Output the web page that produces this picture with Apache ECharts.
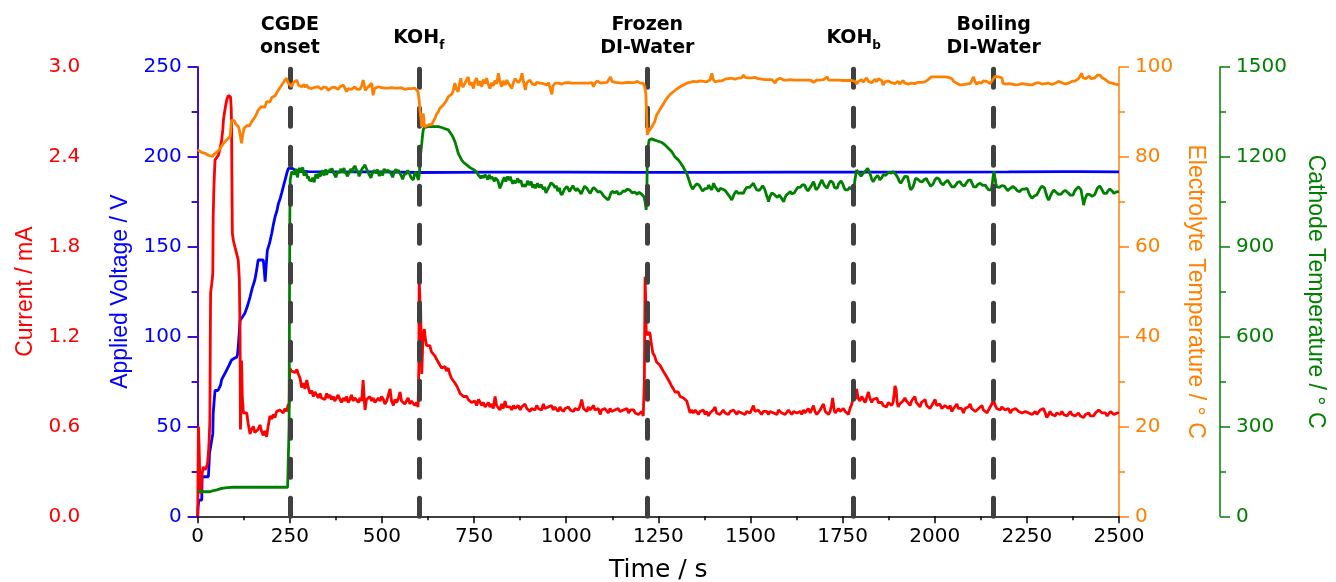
<!DOCTYPE html>
<html>
<head>
<meta charset="utf-8">
<script src="https://cdn.jsdelivr.net/npm/echarts@6/dist/echarts.min.js"></script>
<style>
html,body{margin:0;padding:0;background:#fff;}
#chart{width:1336px;height:582px;}
</style>
</head>
<body>
<div id="chart"></div>
<script>
// ---------- DATA ----------
const xTicks = [0, 250, 500, 750, 1000, 1250, 1500, 1750, 2000, 2250, 2500];

const eventTimes = [250, 600, 1220, 1780, 2160];
const eventLabels = ['CGDE\nonset', '{m|KOH}{s|f}', 'Frozen\nDI-Water', '{m|KOH}{s|b}', 'Boiling\nDI-Water'];

// Applied voltage (V) : [time s, V]
const voltageData = [[0,0],[1,5],[3,9],[8,9],[11,9],[12,22],[20,22],[29,22],[31,30],[32,35],[36,40],[41,46],[42,57],[45,65],[47,70],[55,70],[60,70],[62,73],[65,76],[70,78],[75,80],[79,81],[85,84],[92,87],[100,88],[106,88.5],[108,90],[110,94],[113,103],[115,109],[120,110],[128,113],[135,117],[142,122],[148,127],[155,131.5],[160,137],[164,142.6],[170,142.6],[178,142.6],[181,136],[183,130.5],[186,140],[189,148],[195,152],[201,157.5],[205,162],[210,166.7],[215,170],[219,174],[224,177],[228,180],[233,184],[237,187],[242,191],[246,193.6],[250,194],[255,193.8],[259,193.6],[265,192.5],[275,192],[300,191.8],[400,191.6],[500,191.6],[600,191.3],[700,191.4],[800,191.5],[1000,191.5],[1200,191.4],[1400,191.4],[1600,191.5],[1800,191.5],[2000,191.5],[2200,191.6],[2350,191.8],[2400,191.8],[2500,191.6]];

// Current (mA) : [time s, mA]
const currentData = [[0,0],[1,0.3],[2,0.6],[4,0.45],[6,0.22],[9,0.15],[11,0.26],[13,0.3],[15,0.33],[20,0.31],[24,0.33],[27,0.36],[29,0.42],[31,0.5],[33,0.64],[34,1.1],[35,1.49],[38,1.55],[41,1.62],[42,2.0],[44,2.2],[47,2.38],[50,2.39],[56,2.41],[60,2.45],[65,2.51],[68,2.58],[70,2.65],[73,2.7],[77,2.76],[80,2.79],[83,2.81],[86,2.80],[89,2.80],[91,2.72],[92,2.60],[93,2.2],[94,1.89],[97,1.84],[101,1.80],[105,1.76],[110,1.71],[113,1.58],[115,1.2],[116,0.58],[117,0.57],[118,0.75],[119,1.04],[121,0.8],[124,0.69],[128,0.68],[133,0.69],[137,0.62],[142,0.55],[146,0.58],[151,0.6],[155,0.56],[160,0.55],[164,0.58],[169,0.61],[173,0.57],[178,0.54],[182,0.57],[187,0.53],[191,0.6],[196,0.67],[201,0.65],[205,0.68],[210,0.66],[214,0.7],[219,0.69],[223,0.71],[228,0.70],[232,0.69],[237,0.72],[241,0.70],[244,0.73],[246,0.75],[248,0.72],[250,0.99],[254,0.97],[259,0.98],[264,0.96],[269,0.98],[273,0.95],[278,0.92],[282,0.86],[287,0.89],[291,0.85],[296,0.91],[300,0.86],[305,0.82],[309,0.84],[314,0.80],[318,0.83],[323,0.81],[327,0.79],[332,0.82],[336,0.79],[341,0.80],[345,0.78],[350,0.82],[354,0.79],[359,0.81],[363,0.78],[368,0.80],[372,0.77],[377,0.78],[381,0.81],[386,0.78],[390,0.76],[395,0.79],[399,0.77],[404,0.80],[408,0.76],[413,0.78],[417,0.81],[422,0.77],[426,0.79],[431,0.79],[436,0.76],[440,0.79],[445,0.77],[449,0.91],[451,0.82],[454,0.71],[458,0.78],[463,0.77],[467,0.80],[472,0.77],[476,0.79],[481,0.76],[486,0.75],[490,0.79],[495,0.77],[499,0.80],[504,0.78],[508,0.75],[513,0.77],[518,0.76],[522,0.85],[526,0.77],[531,0.74],[535,0.78],[540,0.76],[545,0.79],[549,0.83],[553,0.77],[558,0.78],[562,0.75],[567,0.76],[571,0.79],[576,0.75],[580,0.77],[585,0.78],[589,0.74],[594,0.76],[598,0.73],[600,1.0],[601,1.58],[603,1.45],[605,1.38],[607,1.1],[608,0.95],[610,1.1],[611,1.2],[613,1.22],[615,1.25],[618,1.18],[621,1.14],[626,1.13],[630,1.14],[634,1.10],[639,1.09],[644,1.07],[648,1.05],[653,1.04],[657,1.01],[662,0.99],[666,0.98],[671,1.0],[675,0.97],[680,0.99],[684,0.95],[689,0.92],[693,0.93],[698,0.89],[703,0.87],[707,0.85],[712,0.82],[716,0.83],[721,0.80],[725,0.81],[730,0.80],[734,0.78],[739,0.79],[743,0.76],[748,0.75],[752,0.77],[757,0.74],[762,0.78],[766,0.78],[771,0.74],[775,0.76],[780,0.73],[784,0.74],[789,0.76],[793,0.73],[798,0.75],[802,0.72],[807,0.80],[811,0.74],[816,0.73],[820,0.71],[825,0.75],[829,0.72],[834,0.77],[838,0.73],[843,0.74],[848,0.73],[852,0.71],[857,0.74],[861,0.72],[866,0.72],[870,0.74],[875,0.71],[879,0.73],[884,0.72],[888,0.75],[893,0.72],[897,0.73],[902,0.70],[906,0.72],[911,0.73],[915,0.71],[920,0.74],[924,0.72],[929,0.73],[933,0.71],[938,0.75],[942,0.72],[947,0.71],[951,0.73],[956,0.72],[960,0.74],[965,0.71],[969,0.73],[974,0.72],[978,0.70],[983,0.73],[987,0.71],[993,0.70],[997,0.72],[1002,0.71],[1006,0.73],[1011,0.71],[1015,0.72],[1020,0.70],[1024,0.72],[1029,0.73],[1033,0.71],[1038,0.74],[1042,0.78],[1047,0.72],[1051,0.71],[1056,0.70],[1060,0.73],[1065,0.71],[1069,0.72],[1074,0.74],[1078,0.71],[1083,0.70],[1087,0.72],[1092,0.68],[1096,0.71],[1101,0.70],[1105,0.72],[1110,0.71],[1114,0.69],[1119,0.72],[1123,0.70],[1128,0.69],[1132,0.71],[1137,0.70],[1141,0.72],[1146,0.70],[1150,0.69],[1155,0.71],[1160,0.70],[1165,0.72],[1169,0.69],[1174,0.71],[1178,0.70],[1183,0.71],[1187,0.69],[1192,0.70],[1196,0.68],[1201,0.69],[1205,0.70],[1209,0.67],[1212,0.9],[1214,1.6],[1216,1.4],[1217,1.24],[1220,1.21],[1223,1.20],[1226,1.23],[1228,1.21],[1231,1.15],[1235,1.09],[1240,1.07],[1245,1.03],[1250,1.02],[1254,1.01],[1259,1.0],[1263,0.97],[1268,0.96],[1273,0.93],[1277,0.92],[1282,0.89],[1286,0.87],[1291,0.85],[1295,0.83],[1300,0.82],[1304,0.83],[1309,0.80],[1313,0.81],[1318,0.79],[1322,0.78],[1327,0.77],[1331,0.76],[1336,0.69],[1340,0.71],[1345,0.69],[1350,0.71],[1354,0.70],[1359,0.68],[1363,0.70],[1368,0.69],[1372,0.71],[1377,0.68],[1381,0.70],[1386,0.67],[1390,0.69],[1395,0.70],[1399,0.71],[1404,0.73],[1408,0.69],[1413,0.70],[1417,0.68],[1422,0.69],[1426,0.71],[1431,0.69],[1436,0.70],[1440,0.68],[1445,0.70],[1449,0.69],[1454,0.71],[1458,0.70],[1463,0.68],[1467,0.70],[1472,0.71],[1476,0.69],[1481,0.70],[1485,0.68],[1490,0.70],[1494,0.71],[1499,0.69],[1503,0.70],[1508,0.74],[1512,0.70],[1517,0.69],[1521,0.71],[1526,0.70],[1530,0.68],[1535,0.70],[1540,0.71],[1544,0.70],[1549,0.68],[1553,0.70],[1558,0.71],[1563,0.69],[1567,0.70],[1572,0.68],[1576,0.71],[1581,0.72],[1585,0.69],[1590,0.70],[1594,0.68],[1599,0.69],[1603,0.71],[1608,0.70],[1612,0.68],[1617,0.70],[1621,0.71],[1626,0.69],[1630,0.70],[1635,0.70],[1639,0.68],[1644,0.71],[1648,0.69],[1653,0.70],[1657,0.72],[1662,0.69],[1666,0.70],[1671,0.74],[1675,0.70],[1680,0.68],[1685,0.69],[1689,0.71],[1694,0.70],[1698,0.75],[1703,0.70],[1707,0.71],[1712,0.68],[1716,0.70],[1720,0.74],[1723,0.79],[1727,0.71],[1730,0.69],[1734,0.70],[1739,0.72],[1743,0.70],[1748,0.69],[1752,0.72],[1757,0.70],[1762,0.71],[1766,0.68],[1770,0.72],[1775,0.75],[1779,0.80],[1784,0.78],[1788,0.85],[1792,0.79],[1797,0.77],[1802,0.80],[1806,0.79],[1811,0.76],[1815,0.79],[1820,0.83],[1824,0.79],[1829,0.76],[1833,0.78],[1838,0.77],[1843,0.79],[1847,0.76],[1851,0.75],[1856,0.76],[1860,0.74],[1865,0.75],[1869,0.73],[1874,0.76],[1878,0.75],[1883,0.74],[1887,0.76],[1890,0.82],[1892,0.87],[1895,0.85],[1898,0.76],[1901,0.73],[1905,0.75],[1910,0.74],[1914,0.77],[1919,0.79],[1923,0.77],[1928,0.76],[1933,0.74],[1937,0.77],[1941,0.76],[1946,0.80],[1950,0.76],[1955,0.75],[1960,0.73],[1964,0.76],[1969,0.75],[1974,0.78],[1978,0.74],[1983,0.75],[1987,0.72],[1992,0.74],[1996,0.75],[2001,0.78],[2005,0.74],[2010,0.73],[2014,0.75],[2019,0.72],[2023,0.73],[2028,0.74],[2033,0.73],[2037,0.72],[2042,0.74],[2046,0.70],[2051,0.72],[2055,0.73],[2060,0.75],[2064,0.72],[2069,0.71],[2073,0.72],[2078,0.69],[2082,0.72],[2087,0.71],[2091,0.73],[2096,0.75],[2100,0.72],[2105,0.71],[2110,0.70],[2114,0.70],[2119,0.72],[2123,0.73],[2128,0.74],[2132,0.71],[2137,0.70],[2142,0.69],[2146,0.71],[2151,0.72],[2155,0.75],[2159,0.78],[2164,0.74],[2168,0.72],[2173,0.72],[2178,0.71],[2182,0.73],[2187,0.72],[2191,0.71],[2196,0.70],[2200,0.72],[2205,0.69],[2210,0.71],[2214,0.70],[2219,0.72],[2223,0.72],[2228,0.70],[2232,0.71],[2237,0.69],[2241,0.68],[2246,0.70],[2250,0.71],[2255,0.69],[2259,0.70],[2264,0.68],[2268,0.69],[2273,0.70],[2277,0.68],[2282,0.69],[2286,0.71],[2291,0.70],[2295,0.72],[2300,0.69],[2304,0.66],[2309,0.68],[2313,0.70],[2318,0.68],[2322,0.69],[2327,0.67],[2331,0.69],[2336,0.68],[2341,0.68],[2345,0.70],[2350,0.68],[2354,0.69],[2359,0.67],[2363,0.68],[2368,0.70],[2372,0.68],[2377,0.69],[2381,0.67],[2386,0.68],[2390,0.69],[2395,0.67],[2400,0.68],[2404,0.66],[2409,0.68],[2413,0.68],[2418,0.69],[2422,0.67],[2427,0.68],[2431,0.67],[2436,0.69],[2440,0.70],[2445,0.71],[2449,0.72],[2454,0.69],[2458,0.68],[2463,0.69],[2468,0.67],[2472,0.68],[2477,0.70],[2481,0.69],[2486,0.68],[2490,0.67],[2495,0.69],[2500,0.69]];

// Electrolyte temperature (°C) : [time s, °C]
const electrolyteData = [[0,81.6],[5,81.4],[10,81.0],[15,81.2],[20,80.8],[25,80.6],[30,80.3],[35,80.0],[40,80.1],[45,80.6],[50,81.0],[55,81.3],[60,81.8],[65,82.4],[70,83.0],[75,83.4],[80,83.9],[85,84.3],[88,84.5],[90,86.5],[92,88.2],[96,87.8],[100,88.0],[103,87.3],[106,87.5],[110,86.8],[113,86.0],[116,84.5],[119,83.0],[122,84.8],[126,86.4],[130,86.2],[134,87.0],[137,87.1],[141,86.9],[146,87.8],[151,88.2],[155,88.8],[160,89.6],[164,90.4],[168,90.0],[173,91.2],[178,91.5],[182,91.0],[187,92.3],[192,92.7],[196,92.2],[201,93.2],[205,93.0],[210,93.6],[216,94.5],[220,94.8],[224,95.5],[228,96.0],[232,96.2],[236,97.0],[241,97.5],[245,96.5],[250,96.8],[255,95.6],[259,96.5],[264,96.8],[269,97.1],[273,96.0],[278,96.3],[282,95.6],[287,96.1],[291,95.5],[296,96.0],[300,95.4],[305,95.8],[309,95.2],[314,94.9],[318,95.5],[323,95.1],[327,95.6],[332,95.2],[336,95.0],[341,95.5],[345,95.1],[350,95.4],[354,94.8],[359,94.9],[363,95.4],[368,95.1],[372,95.5],[377,95.2],[381,95.0],[386,95.6],[390,95.3],[395,96.0],[399,95.4],[404,94.5],[408,95.2],[413,95.5],[417,95.0],[422,95.3],[426,95.6],[431,95.1],[436,95.4],[440,95.0],[445,95.8],[449,97.1],[452,96.0],[455,94.8],[458,94.5],[462,95.5],[467,95.3],[472,96.4],[474,95.0],[476,93.7],[480,95.2],[485,95.0],[490,95.6],[495,95.2],[499,95.4],[504,95.1],[508,95.3],[513,95.0],[517,95.3],[522,95.1],[526,95.4],[531,95.2],[535,95.3],[540,95.0],[544,95.3],[549,95.1],[553,95.4],[558,95.2],[562,95.0],[567,95.3],[571,95.2],[576,95.4],[580,95.2],[585,95.1],[589,95.3],[594,95.2],[598,94.5],[601,92.5],[603,90.4],[606,88.5],[608,86.7],[610,88.0],[612,89.7],[614,88.0],[615,86.7],[620,86.9],[626,87.1],[630,87.0],[635,87.2],[640,88.0],[644,88.6],[648,89.5],[653,90.0],[657,90.8],[662,91.2],[666,91.5],[671,91.9],[675,92.5],[680,93.4],[684,93.2],[689,93.9],[693,94.6],[696,95.8],[698,96.4],[702,95.0],[707,94.5],[711,96.5],[714,97.5],[716,96.2],[720,95.5],[725,95.6],[729,97.0],[734,97.8],[738,96.0],[743,96.6],[748,95.2],[752,96.8],[757,97.5],[761,95.9],[766,96.8],[771,95.6],[775,97.2],[780,96.3],[784,97.5],[789,96.0],[793,95.2],[798,96.5],[802,95.8],[807,97.0],[811,96.2],[816,98.6],[820,96.8],[825,95.6],[829,96.9],[834,96.0],[839,97.1],[843,96.4],[848,95.8],[852,95.2],[857,96.6],[861,97.4],[866,97.8],[870,96.5],[875,97.0],[880,98.6],[884,96.8],[889,94.9],[893,96.5],[898,96.9],[902,97.1],[907,96.3],[911,96.6],[916,96.0],[920,96.6],[925,96.9],[929,96.4],[934,96.7],[938,96.3],[943,96.6],[948,96.0],[952,96.5],[957,96.3],[961,93.9],[964,95.8],[970,96.4],[975,96.7],[979,96.4],[984,96.5],[988,96.2],[993,96.3],[997,96.5],[1002,96.4],[1006,96.5],[1011,96.6],[1015,96.4],[1020,96.5],[1024,96.4],[1029,96.5],[1033,96.4],[1038,96.6],[1043,96.4],[1047,96.2],[1052,96.4],[1056,96.5],[1061,96.4],[1065,96.3],[1070,96.5],[1074,95.6],[1078,96.4],[1084,96.9],[1088,96.5],[1093,96.4],[1097,96.6],[1102,96.5],[1106,96.4],[1111,96.6],[1115,96.8],[1120,97.8],[1124,96.8],[1129,96.5],[1133,96.6],[1138,96.3],[1142,96.5],[1147,96.7],[1151,96.4],[1156,96.4],[1160,96.5],[1165,96.7],[1169,96.6],[1174,96.3],[1178,96.5],[1183,96.4],[1187,96.6],[1193,96.8],[1197,96.5],[1201,96.4],[1205,96.5],[1209,96.4],[1213,95.6],[1216,94.1],[1218,90.0],[1220,84.9],[1223,85.6],[1227,86.0],[1231,86.5],[1236,86.7],[1240,87.8],[1245,89.3],[1250,89.9],[1254,90.5],[1259,91.2],[1264,91.8],[1268,92.4],[1273,93.0],[1277,93.4],[1282,93.9],[1286,94.2],[1291,94.5],[1295,94.8],[1300,95.1],[1304,95.3],[1309,95.6],[1313,95.8],[1318,96.0],[1322,96.2],[1327,96.4],[1331,96.3],[1336,96.6],[1340,96.5],[1345,96.8],[1350,96.6],[1354,96.7],[1359,96.6],[1363,96.9],[1368,96.7],[1372,96.8],[1377,96.6],[1381,96.7],[1386,96.9],[1390,97.1],[1395,98.6],[1399,97.2],[1404,96.7],[1408,97.0],[1413,96.9],[1418,97.1],[1422,96.9],[1427,97.0],[1431,97.3],[1436,97.1],[1440,97.4],[1445,97.2],[1449,97.5],[1454,97.6],[1458,97.3],[1463,97.6],[1467,97.5],[1472,97.8],[1476,97.6],[1481,98.2],[1485,97.7],[1490,97.5],[1494,97.6],[1499,97.4],[1503,97.6],[1508,97.5],[1512,97.7],[1517,97.6],[1521,97.4],[1526,97.5],[1530,97.3],[1535,97.4],[1540,97.2],[1544,97.1],[1549,97.2],[1553,97.1],[1558,97.2],[1563,97.0],[1567,96.4],[1571,97.1],[1576,97.3],[1580,97.5],[1585,97.2],[1590,97.1],[1594,97.2],[1599,97.1],[1603,97.0],[1608,97.2],[1612,97.1],[1617,97.1],[1621,97.0],[1626,97.1],[1630,97.0],[1635,97.1],[1640,97.0],[1644,97.1],[1649,97.0],[1653,97.1],[1658,97.0],[1662,97.1],[1667,96.8],[1671,96.6],[1675,97.0],[1680,97.1],[1685,97.0],[1689,97.1],[1694,97.0],[1698,97.2],[1703,97.5],[1708,97.8],[1712,97.1],[1717,97.0],[1721,97.1],[1726,97.0],[1730,97.1],[1735,97.0],[1739,97.1],[1744,97.1],[1748,97.0],[1753,97.1],[1757,97.0],[1762,97.1],[1766,97.0],[1771,97.1],[1775,97.0],[1780,97.1],[1784,96.8],[1788,96.2],[1793,96.8],[1797,96.4],[1802,97.2],[1806,96.6],[1811,97.0],[1815,97.6],[1820,96.8],[1824,97.1],[1829,96.5],[1833,96.9],[1838,97.3],[1842,96.7],[1847,97.4],[1851,97.8],[1856,97.0],[1860,96.0],[1865,96.7],[1869,96.3],[1874,96.9],[1878,97.2],[1883,96.5],[1887,96.9],[1892,96.3],[1896,96.4],[1901,96.8],[1905,96.2],[1910,96.6],[1914,97.0],[1919,96.4],[1923,96.7],[1928,96.2],[1932,96.0],[1937,96.4],[1941,96.6],[1946,96.3],[1950,96.5],[1955,96.6],[1960,96.4],[1964,96.6],[1969,96.5],[1973,96.7],[1977,96.8],[1982,97.2],[1987,97.6],[1991,97.8],[1996,97.8],[2001,97.8],[2005,97.8],[2010,97.8],[2014,97.8],[2019,97.8],[2023,97.8],[2028,97.8],[2033,97.8],[2038,97.7],[2042,97.8],[2047,97.4],[2051,96.8],[2056,96.6],[2060,96.4],[2065,96.3],[2069,96.0],[2074,96.4],[2078,96.1],[2083,96.5],[2087,96.2],[2092,96.1],[2096,96.3],[2100,96.9],[2105,97.8],[2109,96.8],[2114,96.1],[2118,96.6],[2123,96.2],[2127,96.4],[2132,96.9],[2137,96.6],[2141,96.8],[2146,96.4],[2150,96.3],[2155,96.6],[2159,97.4],[2164,97.9],[2168,97.9],[2173,97.8],[2178,97.9],[2182,97.6],[2185,96.4],[2187,96.0],[2192,96.2],[2196,96.0],[2201,96.3],[2205,96.1],[2210,96.2],[2214,96.2],[2219,96.0],[2223,96.4],[2228,96.1],[2232,96.0],[2237,96.3],[2241,96.5],[2246,96.2],[2250,96.6],[2255,96.1],[2259,96.3],[2264,96.0],[2268,96.1],[2273,96.4],[2277,96.2],[2282,96.5],[2286,96.4],[2291,96.2],[2295,96.5],[2300,96.3],[2305,96.2],[2309,96.4],[2314,96.3],[2318,96.1],[2323,96.0],[2327,96.4],[2332,96.6],[2336,96.8],[2341,96.9],[2345,96.5],[2350,96.3],[2354,96.2],[2359,96.0],[2363,96.4],[2368,96.6],[2372,96.8],[2377,96.7],[2381,96.9],[2386,97.2],[2390,97.4],[2395,97.8],[2399,98.6],[2402,97.6],[2406,97.2],[2410,97.4],[2415,97.6],[2419,98.0],[2424,97.4],[2428,97.3],[2433,97.5],[2437,97.8],[2442,98.2],[2445,98.6],[2449,98.2],[2454,97.6],[2458,97.4],[2463,97.2],[2468,96.9],[2472,96.6],[2477,96.6],[2481,96.4],[2486,96.3],[2490,96.2],[2495,96.1],[2500,96.0]];

// Cathode temperature (°C) : [time s, °C]
const cathodeData = [[0,84],[10,83],[20,82],[33,82],[40,85],[52,88],[65,93],[80,96],[97,97],[120,97],[150,97],[200,97],[244,97],[247,97],[248,300],[249,700],[250,1000],[251,1123],[255,1150],[259,1156],[262,1142],[264,1150],[267,1160],[269,1140],[271,1132],[273,1150],[276,1163],[278,1160],[280,1148],[282,1156],[285,1165],[287,1145],[289,1138],[291,1150],[294,1155],[296,1140],[298,1128],[300,1135],[303,1122],[305,1128],[307,1118],[309,1120],[312,1130],[314,1123],[316,1115],[318,1130],[321,1142],[323,1138],[326,1128],[328,1140],[330,1148],[332,1134],[334,1140],[336,1145],[339,1155],[341,1145],[343,1138],[345,1150],[348,1158],[350,1140],[352,1146],[354,1155],[357,1148],[359,1160],[362,1152],[364,1162],[366,1158],[368,1150],[370,1143],[372,1140],[375,1132],[377,1140],[379,1148],[381,1152],[384,1142],[386,1148],[388,1160],[390,1158],[393,1147],[395,1156],[397,1163],[399,1150],[402,1145],[404,1142],[406,1135],[409,1140],[411,1148],[413,1150],[416,1160],[418,1155],[420,1148],[422,1162],[425,1158],[427,1170],[429,1162],[431,1155],[434,1150],[436,1145],[438,1135],[440,1140],[443,1150],[445,1158],[447,1152],[449,1165],[452,1160],[454,1173],[456,1166],[458,1160],[461,1152],[463,1148],[465,1142],[467,1140],[470,1130],[472,1134],[474,1145],[476,1142],[479,1155],[481,1150],[484,1145],[486,1151],[488,1158],[490,1145],[493,1136],[495,1140],[497,1150],[499,1145],[502,1138],[504,1152],[506,1160],[508,1158],[511,1148],[513,1150],[515,1156],[517,1162],[520,1155],[522,1150],[524,1145],[526,1140],[529,1132],[531,1140],[533,1150],[535,1148],[538,1158],[540,1155],[542,1148],[544,1156],[547,1150],[549,1145],[551,1140],[553,1135],[556,1125],[558,1128],[560,1140],[562,1135],[565,1142],[567,1145],[570,1155],[572,1151],[574,1145],[576,1140],[579,1130],[581,1135],[583,1128],[585,1123],[588,1140],[590,1145],[592,1150],[594,1140],[597,1135],[599,1123],[601,1140],[603,1170],[605,1210],[608,1245],[610,1270],[612,1290],[615,1298],[620,1300],[626,1301],[630,1300],[635,1302],[640,1300],[644,1301],[648,1300],[653,1301],[657,1299],[662,1298],[666,1296],[671,1294],[675,1292],[680,1290],[684,1284],[689,1274],[693,1265],[698,1251],[703,1230],[707,1212],[712,1200],[716,1190],[721,1182],[725,1176],[730,1173],[734,1168],[739,1164],[743,1162],[748,1158],[752,1160],[757,1150],[761,1140],[764,1146],[766,1134],[769,1128],[771,1138],[773,1142],[775,1130],[778,1126],[780,1140],[782,1136],[784,1132],[787,1124],[789,1128],[791,1140],[793,1136],[796,1126],[798,1134],[800,1130],[802,1125],[805,1118],[807,1130],[810,1134],[812,1128],[814,1122],[816,1115],[818,1105],[820,1095],[823,1104],[825,1110],[827,1118],[829,1120],[832,1132],[834,1128],[836,1118],[838,1125],[841,1134],[843,1130],[846,1122],[848,1134],[850,1126],[852,1120],[855,1110],[857,1115],[859,1122],[861,1112],[864,1106],[866,1120],[868,1128],[870,1125],[873,1114],[875,1117],[877,1122],[879,1110],[882,1100],[884,1108],[886,1112],[889,1101],[891,1096],[893,1110],[895,1120],[898,1115],[900,1106],[902,1112],[905,1118],[907,1105],[909,1098],[911,1100],[914,1108],[916,1095],[918,1090],[920,1104],[922,1112],[925,1110],[927,1098],[929,1102],[932,1108],[934,1100],[936,1094],[938,1092],[941,1100],[943,1088],[945,1080],[948,1084],[950,1092],[952,1098],[955,1104],[957,1110],[959,1114],[961,1117],[964,1110],[966,1105],[968,1100],[970,1097],[973,1104],[975,1095],[977,1086],[979,1090],[982,1096],[984,1080],[986,1076],[988,1073],[991,1080],[993,1085],[995,1092],[997,1095],[1000,1098],[1002,1101],[1004,1096],[1006,1092],[1009,1084],[1011,1088],[1013,1094],[1015,1095],[1018,1104],[1020,1100],[1022,1094],[1024,1092],[1027,1086],[1029,1095],[1031,1098],[1033,1090],[1036,1086],[1038,1083],[1040,1076],[1043,1078],[1045,1088],[1047,1095],[1050,1102],[1052,1106],[1054,1098],[1056,1095],[1059,1090],[1061,1085],[1063,1080],[1065,1078],[1068,1084],[1070,1090],[1072,1096],[1074,1098],[1077,1092],[1079,1095],[1081,1090],[1083,1088],[1086,1082],[1088,1080],[1090,1086],[1092,1085],[1095,1080],[1097,1078],[1099,1074],[1101,1070],[1104,1066],[1106,1065],[1108,1062],[1110,1060],[1112,1058],[1114,1056],[1117,1064],[1119,1070],[1121,1078],[1124,1085],[1126,1088],[1129,1084],[1131,1080],[1133,1078],[1136,1082],[1138,1085],[1140,1080],[1142,1075],[1145,1070],[1147,1073],[1149,1078],[1151,1080],[1154,1086],[1156,1090],[1158,1088],[1160,1085],[1163,1090],[1165,1092],[1167,1097],[1170,1095],[1172,1090],[1174,1088],[1177,1084],[1179,1080],[1181,1076],[1184,1078],[1186,1082],[1188,1085],[1190,1080],[1193,1075],[1195,1078],[1197,1082],[1200,1080],[1202,1078],[1204,1076],[1206,1074],[1209,1070],[1211,1067],[1214,1050],[1217,1023],[1219,1100],[1220,1190],[1223,1240],[1225,1256],[1228,1262],[1232,1260],[1236,1258],[1240,1256],[1245,1256],[1250,1252],[1254,1250],[1259,1248],[1264,1245],[1268,1240],[1273,1235],[1277,1229],[1282,1225],[1286,1218],[1291,1212],[1295,1200],[1300,1195],[1304,1190],[1309,1182],[1313,1179],[1318,1165],[1322,1155],[1327,1145],[1331,1130],[1336,1112],[1338,1104],[1340,1100],[1343,1092],[1345,1095],[1347,1100],[1350,1104],[1352,1098],[1354,1110],[1357,1106],[1359,1112],[1361,1105],[1363,1100],[1366,1094],[1368,1090],[1370,1086],[1372,1084],[1375,1088],[1377,1094],[1379,1098],[1381,1100],[1384,1095],[1386,1106],[1388,1102],[1390,1098],[1393,1094],[1395,1090],[1397,1100],[1400,1112],[1402,1106],[1404,1100],[1406,1096],[1409,1092],[1411,1088],[1413,1084],[1416,1090],[1418,1095],[1420,1098],[1422,1100],[1425,1092],[1427,1095],[1429,1090],[1431,1088],[1434,1084],[1436,1080],[1438,1076],[1440,1073],[1443,1068],[1445,1065],[1447,1060],[1449,1056],[1452,1064],[1454,1070],[1456,1076],[1458,1080],[1461,1086],[1463,1084],[1465,1080],[1467,1078],[1470,1072],[1472,1075],[1474,1080],[1476,1085],[1479,1082],[1481,1078],[1483,1084],[1485,1090],[1488,1094],[1490,1098],[1492,1092],[1494,1095],[1497,1098],[1499,1101],[1501,1098],[1503,1105],[1506,1108],[1508,1112],[1510,1106],[1512,1100],[1515,1094],[1517,1090],[1519,1086],[1522,1084],[1524,1088],[1526,1092],[1529,1096],[1531,1100],[1533,1104],[1535,1101],[1538,1094],[1540,1088],[1542,1078],[1544,1070],[1547,1060],[1549,1050],[1551,1060],[1553,1068],[1556,1074],[1558,1080],[1560,1076],[1563,1078],[1565,1074],[1567,1072],[1570,1068],[1572,1065],[1574,1062],[1576,1067],[1579,1072],[1581,1075],[1583,1068],[1585,1060],[1588,1055],[1590,1050],[1592,1058],[1594,1065],[1597,1072],[1599,1078],[1601,1074],[1603,1078],[1606,1082],[1608,1085],[1610,1080],[1612,1076],[1615,1070],[1617,1073],[1619,1080],[1621,1085],[1624,1090],[1626,1095],[1628,1098],[1631,1101],[1633,1096],[1635,1098],[1638,1102],[1640,1106],[1642,1110],[1644,1112],[1647,1106],[1649,1100],[1651,1094],[1653,1090],[1656,1086],[1658,1084],[1660,1090],[1662,1098],[1665,1104],[1667,1108],[1669,1112],[1671,1117],[1674,1108],[1675,1100],[1678,1090],[1680,1084],[1683,1092],[1685,1100],[1687,1106],[1689,1112],[1692,1118],[1694,1123],[1696,1116],[1698,1110],[1701,1104],[1703,1100],[1705,1098],[1708,1095],[1710,1100],[1712,1108],[1715,1114],[1717,1120],[1719,1122],[1721,1123],[1724,1114],[1726,1105],[1728,1098],[1730,1095],[1733,1092],[1735,1095],[1737,1102],[1739,1110],[1742,1112],[1744,1115],[1746,1120],[1748,1117],[1751,1108],[1753,1100],[1755,1094],[1757,1090],[1760,1086],[1762,1084],[1764,1090],[1766,1095],[1769,1098],[1771,1101],[1773,1101],[1777,1090],[1780,1078],[1783,1120],[1788,1156],[1790,1152],[1793,1150],[1795,1144],[1797,1140],[1800,1136],[1802,1134],[1804,1140],[1806,1145],[1809,1148],[1811,1150],[1813,1154],[1815,1158],[1818,1162],[1820,1167],[1822,1156],[1824,1145],[1827,1134],[1829,1125],[1831,1120],[1833,1117],[1836,1122],[1838,1128],[1840,1132],[1843,1134],[1845,1138],[1847,1140],[1849,1130],[1851,1123],[1854,1126],[1856,1130],[1858,1136],[1860,1140],[1863,1136],[1865,1134],[1867,1138],[1869,1140],[1872,1144],[1874,1148],[1876,1150],[1878,1150],[1881,1146],[1883,1148],[1885,1150],[1887,1151],[1890,1148],[1892,1145],[1894,1142],[1896,1145],[1899,1136],[1901,1128],[1903,1120],[1905,1115],[1908,1112],[1910,1112],[1912,1118],[1914,1125],[1917,1130],[1919,1135],[1921,1138],[1923,1140],[1926,1134],[1928,1128],[1930,1114],[1932,1100],[1935,1090],[1937,1084],[1939,1092],[1941,1100],[1944,1110],[1946,1120],[1948,1128],[1950,1134],[1953,1130],[1955,1125],[1957,1120],[1960,1118],[1962,1115],[1964,1112],[1966,1116],[1969,1120],[1971,1124],[1973,1125],[1976,1127],[1978,1128],[1980,1120],[1982,1115],[1985,1110],[1987,1105],[1989,1102],[1991,1101],[1994,1106],[1996,1110],[1998,1116],[2000,1122],[2003,1126],[2005,1130],[2007,1132],[2009,1134],[2012,1126],[2014,1120],[2016,1114],[2019,1110],[2021,1108],[2023,1106],[2026,1110],[2028,1115],[2030,1118],[2032,1120],[2035,1122],[2037,1123],[2039,1116],[2041,1110],[2044,1104],[2046,1100],[2048,1097],[2050,1095],[2053,1100],[2055,1105],[2058,1108],[2060,1112],[2062,1115],[2064,1117],[2067,1118],[2069,1117],[2071,1112],[2073,1108],[2076,1105],[2078,1103],[2080,1102],[2082,1101],[2085,1108],[2087,1115],[2089,1118],[2091,1122],[2094,1125],[2096,1128],[2098,1122],[2100,1115],[2103,1108],[2105,1100],[2107,1097],[2110,1095],[2112,1100],[2114,1105],[2117,1108],[2119,1110],[2121,1111],[2123,1112],[2126,1108],[2128,1106],[2130,1105],[2132,1104],[2135,1105],[2137,1106],[2139,1102],[2141,1098],[2144,1094],[2146,1090],[2148,1087],[2150,1084],[2153,1090],[2155,1100],[2157,1120],[2159,1140],[2161,1151],[2164,1125],[2166,1110],[2168,1100],[2171,1097],[2173,1095],[2175,1098],[2178,1100],[2180,1102],[2182,1104],[2185,1105],[2187,1106],[2189,1102],[2191,1098],[2194,1094],[2196,1090],[2198,1087],[2201,1084],[2203,1090],[2205,1095],[2208,1098],[2210,1100],[2212,1101],[2214,1101],[2217,1098],[2219,1095],[2221,1092],[2223,1088],[2226,1086],[2228,1084],[2230,1084],[2232,1084],[2235,1088],[2237,1092],[2239,1094],[2241,1095],[2244,1092],[2246,1090],[2248,1092],[2250,1095],[2253,1088],[2255,1080],[2257,1075],[2259,1070],[2262,1066],[2264,1062],[2266,1065],[2268,1068],[2271,1070],[2273,1072],[2275,1073],[2277,1073],[2280,1079],[2282,1085],[2284,1090],[2286,1095],[2289,1099],[2291,1102],[2293,1104],[2296,1106],[2298,1096],[2300,1085],[2303,1075],[2305,1065],[2307,1060],[2309,1056],[2312,1063],[2314,1070],[2316,1075],[2318,1080],[2321,1085],[2323,1089],[2325,1087],[2327,1085],[2330,1081],[2332,1078],[2334,1076],[2336,1075],[2339,1074],[2341,1073],[2343,1076],[2345,1080],[2348,1083],[2350,1086],[2352,1087],[2354,1088],[2357,1086],[2359,1084],[2361,1081],[2363,1078],[2366,1075],[2368,1072],[2370,1070],[2373,1067],[2375,1072],[2377,1078],[2379,1084],[2381,1090],[2384,1093],[2386,1095],[2388,1098],[2390,1100],[2393,1103],[2395,1106],[2397,1090],[2399,1075],[2402,1055],[2404,1039],[2406,1050],[2408,1060],[2411,1068],[2413,1075],[2415,1077],[2418,1078],[2420,1075],[2422,1072],[2425,1070],[2427,1068],[2429,1067],[2432,1067],[2434,1074],[2436,1080],[2439,1088],[2441,1095],[2443,1098],[2445,1100],[2448,1103],[2450,1106],[2452,1098],[2454,1090],[2457,1084],[2459,1078],[2461,1075],[2464,1073],[2466,1078],[2468,1082],[2470,1086],[2473,1090],[2475,1093],[2477,1095],[2480,1090],[2482,1085],[2484,1081],[2486,1078],[2489,1078],[2491,1078],[2493,1083],[2495,1088],[2498,1086],[2500,1084]];

// ---------- CHART ----------
const C_RED = '#FF0000', C_BLUE = '#0000FF', C_ORANGE = '#FF8000', C_GREEN = '#008000';
const TICK_FONT = "'DejaVu Sans', 'Liberation Sans', sans-serif";
const TITLE_FONT = "'Liberation Sans', Arial, sans-serif";
const BOLD_FONT = "'DejaVu Sans', 'Liberation Sans', sans-serif";

function yAxisDef(opts) {
  return {
    type: 'value',
    position: opts.position,
    offset: opts.offset,
    min: opts.min, max: opts.max, interval: opts.interval,
    name: opts.name,
    nameLocation: 'middle',
    nameGap: opts.nameGap,
    nameRotate: opts.nameRotate,
    nameTextStyle: { color: opts.color, fontFamily: TITLE_FONT, fontSize: 23 },
    axisLine: { show: true, lineStyle: { color: opts.color, width: 1.5 } },
    axisTick: { show: true, inside: false, length: 10, lineStyle: { color: opts.color, width: 1.5 } },
    minorTick: { show: true, splitNumber: 2, length: 6, lineStyle: { color: opts.color, width: 1.5 } },
    axisLabel: { color: opts.color, fontFamily: TICK_FONT, fontSize: 20, margin: 16,
      formatter: opts.formatter || (v => String(v)) },
    splitLine: { show: false },
    minorSplitLine: { show: false }
  };
}

function lineSeries(name, data, yIndex, color, z) {
  return {
    name, type: 'line', data, yAxisIndex: yIndex,
    showSymbol: false, symbol: 'none', smooth: false,
    lineStyle: { color, width: 2.8 }, itemStyle: { color },
    z, animation: false, silent: true
  };
}

const chart = echarts.init(document.getElementById('chart'), null, { renderer: 'canvas' });

chart.setOption({
  backgroundColor: '#ffffff',
  animation: false,
  grid: { left: 197.7, right: 217, top: 67, bottom: 65.7, containLabel: false, outerBoundsMode: 'none' },
  xAxis: {
    type: 'value', min: xTicks[0], max: xTicks[xTicks.length - 1], interval: xTicks[1] - xTicks[0],
    name: 'Time / s', nameLocation: 'middle', nameGap: 42,
    nameTextStyle: { color: '#000', fontFamily: TICK_FONT, fontSize: 25 },
    axisLine: { show: true, onZero: false, lineStyle: { color: '#000', width: 1.5 } },
    axisTick: { show: true, inside: false, length: 7, lineStyle: { color: '#000', width: 1.5 } },
    minorTick: { show: true, splitNumber: 2, length: 4, lineStyle: { color: '#000', width: 1.5 } },
    axisLabel: { color: '#000', fontFamily: TICK_FONT, fontSize: 20, margin: 10, formatter: v => String(v) },
    splitLine: { show: false }
  },
  yAxis: [
    yAxisDef({ position: 'left', offset: 101.4, min: 0, max: 3, interval: 0.6, color: C_RED,
      name: 'Current / mA', nameGap: 59, formatter: v => v.toFixed(1) }),
    yAxisDef({ position: 'left', offset: 0, min: 0, max: 250, interval: 50, color: C_BLUE,
      name: 'Applied Voltage / V', nameGap: 66 }),
    yAxisDef({ position: 'right', offset: 0, min: 0, max: 100, interval: 20, color: C_ORANGE,
      name: 'Electrolyte Temperature / ° C', nameGap: 60, nameRotate: -90 }),
    yAxisDef({ position: 'right', offset: 101, min: 0, max: 1500, interval: 300, color: C_GREEN,
      name: 'Cathode Temperature / ° C', nameGap: 84, nameRotate: -90 })
  ],
  series: [
    lineSeries('Applied Voltage', voltageData, 1, C_BLUE, 2),
    lineSeries('Current', currentData, 0, C_RED, 3),
    lineSeries('Cathode Temperature', cathodeData, 3, C_GREEN, 4),
    lineSeries('Electrolyte Temperature', electrolyteData, 2, C_ORANGE, 5),
    {
      name: 'events', type: 'line', data: [], yAxisIndex: 1, z: 10, silent: true, animation: false,
      markLine: {
        silent: true, animation: false, symbol: ['none', 'none'],
        lineStyle: { color: '#404040', width: 5, type: [18, 21], cap: 'round' },
        label: {
          show: true, position: 'end', color: '#000', fontFamily: BOLD_FONT,
          fontWeight: 'bold', fontSize: 19, lineHeight: 23, align: 'center',
          rich: {
            m: { fontFamily: BOLD_FONT, fontWeight: 'bold', fontSize: 19, lineHeight: 27, color: '#000' },
            s: { fontFamily: BOLD_FONT, fontWeight: 'bold', fontSize: 12, lineHeight: 12, verticalAlign: 'bottom', color: '#000' }
          }
        },
        data: eventTimes.map((t, i) => ({
          xAxis: t,
          label: { formatter: eventLabels[i], distance: eventLabels[i].indexOf('\n') >= 0 ? 7 : 15 }
        }))
      }
    }
  ]
});
</script>
</body>
</html>
